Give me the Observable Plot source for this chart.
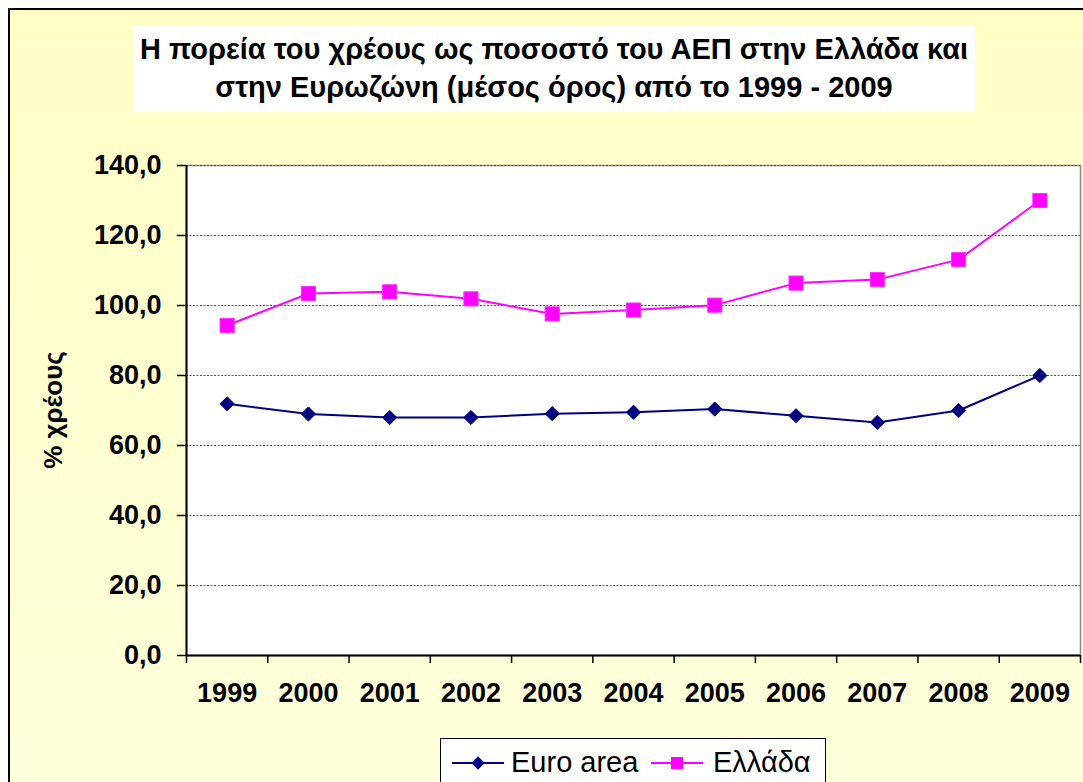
<!DOCTYPE html>
<html>
<head>
<meta charset="utf-8">
<script src="https://cdn.jsdelivr.net/npm/d3@7"></script>
<script src="https://cdn.jsdelivr.net/npm/@observablehq/plot@0.6"></script>
<style>
  html, body { margin: 0; padding: 0; background: #ffffff; }
  #page { position: relative; width: 1083px; height: 782px; overflow: hidden; font-family: "Liberation Sans", Arial, sans-serif; }
  #frame { position: absolute; left: 8px; top: 8px; width: 1100px; height: 800px; border: 2px solid #000; background: linear-gradient(#FFFFC6, #FFFFDD); }
  #title { position: absolute; left: 133px; top: 25px; width: 842px; height: 87px; background: #fff; text-align: center; font-weight: bold; font-size: 29px; line-height: 38px; padding-top: 5px; box-sizing: border-box; color: #000; }
  #title span { display: inline-block; white-space: nowrap; }
  #chart { position: absolute; left: 0; top: 0; }
  #ylabel { position: absolute; left: 53px; top: 410px; transform: translate(-50%, -50%) rotate(-90deg); font-weight: bold; font-size: 26px; white-space: nowrap; color: #000; }
  #legend { position: absolute; left: 440px; top: 738px; width: 386px; height: 60px; border: 1.5px solid #000; background: #fff; box-sizing: border-box; font-size: 29px; color: #000; }
  #legend svg { position: absolute; top: 4px; display: block; }
  #legend span { position: absolute; top: 6px; line-height: 34px; white-space: nowrap; }
</style>
</head>
<body>
<div id="page">
  <div id="frame"></div>
  <div id="title"><span>Η πορεία του χρέους ως ποσοστό του ΑΕΠ στην Ελλάδα και</span><br><span>στην Ευρωζώνη (μέσος όρος) από το 1999 - 2009</span></div>
  <div id="chart"></div>
  <div id="ylabel">% χρέους</div>
  <div id="legend"></div>
</div>
<script>
const years = [1999, 2000, 2001, 2002, 2003, 2004, 2005, 2006, 2007, 2008, 2009];
const euroArea = [71.9, 69.0, 68.0, 68.0, 69.1, 69.5, 70.4, 68.5, 66.6, 70.0, 80.0];
const greece = [94.3, 103.4, 103.9, 101.9, 97.6, 98.7, 100.1, 106.4, 107.4, 113.1, 130.0];
const yTicks = [0, 20, 40, 60, 80, 100, 120, 140];
const seriesNames = ["Euro area", "Ελλάδα"];
const seriesColors = ["#000080", "#FF00FF"];

const data = [];
years.forEach((yr, i) => {
  data.push({year: yr, value: euroArea[i], series: seriesNames[0]});
  data.push({year: yr, value: greece[i], series: seriesNames[1]});
});
const euroData = data.filter(d => d.series === seriesNames[0]);
const greeceData = data.filter(d => d.series === seriesNames[1]);

const xMin = years[0] - 0.5, xMax = years[years.length - 1] + 0.5;
const boundaries = years.map(y => y - 0.5).concat([xMax]);
const fmt = d => d.toFixed(1).replace(".", ",");

const chart = Plot.plot({
  width: 1083,
  height: 700,
  marginLeft: 186,
  marginRight: 3,
  marginTop: 165,
  marginBottom: 45,
  style: {background: "transparent", color: "#000", fontFamily: "'Liberation Sans', Arial, sans-serif", overflow: "visible"},
  x: {type: "linear", domain: [xMin, xMax]},
  y: {domain: [yTicks[0], yTicks[yTicks.length - 1]]},
  marks: [
    Plot.frame({fill: "#ffffff", stroke: "#8a8a8a", strokeWidth: 1.5}),
    Plot.gridY(yTicks.filter(v => v > 0), {stroke: "#555", strokeOpacity: 1, strokeDasharray: "2,1.5", strokeWidth: 1}),
    Plot.axisY(yTicks, {tickFormat: fmt, tickSize: 9, tickPadding: 16, fontSize: 27, fontWeight: "bold", label: null, strokeWidth: 1.5}),
    Plot.axisX(boundaries, {tickFormat: () => "", tickSize: 8, label: null, strokeWidth: 1.5}),
    Plot.axisX(years, {tickFormat: d => String(d), tickSize: 0, tickPadding: 27, fontSize: 27, fontWeight: "bold", label: null}),
    Plot.ruleX([xMin], {stroke: "#000", strokeWidth: 2}),
    Plot.ruleY([yTicks[0]], {stroke: "#000", strokeWidth: 2}),
    Plot.line(euroData, {x: "year", y: "value", stroke: seriesColors[0], strokeWidth: 2}),
    Plot.line(greeceData, {x: "year", y: "value", stroke: seriesColors[1], strokeWidth: 2}),
    Plot.dot(euroData, {x: "year", y: "value", symbol: "diamond2", r: 6.4, fill: seriesColors[0], stroke: seriesColors[0], strokeWidth: 1}),
    Plot.dot(greeceData, {x: "year", y: "value", symbol: "square", r: 8.0, fill: seriesColors[1], stroke: "#ff33ff", strokeWidth: 1})
  ]
});
document.getElementById("chart").appendChild(chart);

// Legend
const legend = document.getElementById("legend");
const ns = "http://www.w3.org/2000/svg";
const svgLefts = [10, 209];
const textLefts = [70, 272];
const symbolSizes = [Math.PI * 6.0 * 6.0, Math.PI * 6.8 * 6.8];
const symbolTypes = [d3.symbolDiamond2, d3.symbolSquare];
seriesNames.forEach((name, i) => {
  const svg = document.createElementNS(ns, "svg");
  svg.setAttribute("width", 56); svg.setAttribute("height", 40);
  svg.style.left = svgLefts[i] + "px";
  const line = document.createElementNS(ns, "line");
  line.setAttribute("x1", 1); line.setAttribute("x2", 53); line.setAttribute("y1", 20); line.setAttribute("y2", 20);
  line.setAttribute("stroke", seriesColors[i]); line.setAttribute("stroke-width", 2);
  svg.appendChild(line);
  const p = document.createElementNS(ns, "path");
  p.setAttribute("d", d3.symbol(symbolTypes[i], symbolSizes[i])());
  p.setAttribute("transform", "translate(27,20)");
  p.setAttribute("fill", seriesColors[i]);
  svg.appendChild(p);
  legend.appendChild(svg);
  const t = document.createElement("span");
  t.textContent = name;
  t.style.left = textLefts[i] + "px";
  legend.appendChild(t);
});
</script>
</body>
</html>
